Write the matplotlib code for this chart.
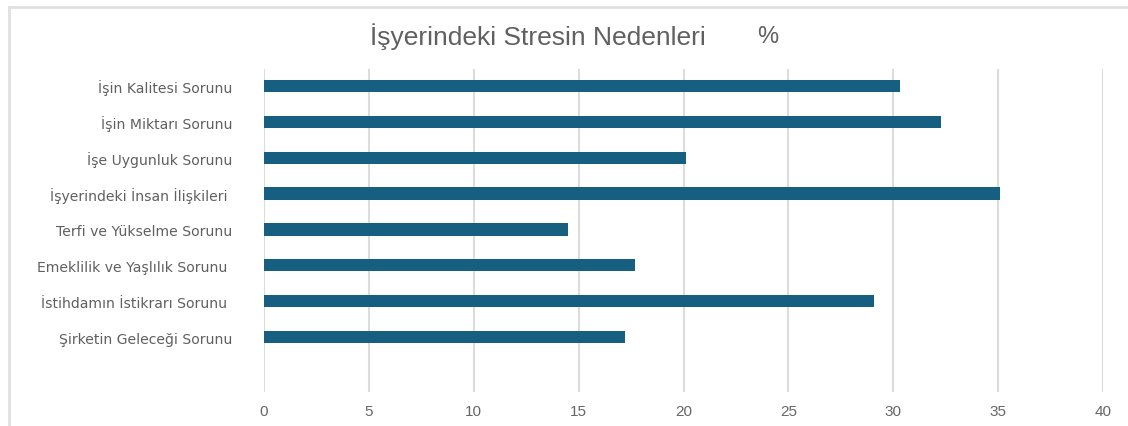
import matplotlib.pyplot as plt
from matplotlib.lines import Line2D

categories = ['İşin Kalitesi Sorunu', 'İşin Miktarı Sorunu', 'İşe Uygunluk Sorunu',
              'İşyerindeki İnsan İlişkileri ', 'Terfi ve Yükselme Sorunu',
              'Emeklilik ve Yaşlılık Sorunu ', 'İstihdamın İstikrarı Sorunu ',
              'Şirketin Geleceği Sorunu']
values = [30.3, 32.3, 20.1, 35.1, 14.5, 17.7, 29.1, 17.2]
x_ticks = [0, 5, 10, 15, 20, 25, 30, 35, 40]

plt.rcParams['font.family'] = ['Liberation Sans', 'DejaVu Sans']

fig = plt.figure(figsize=(11.28, 4.27), dpi=100)
W, H = 1128, 427
# axes box in pixels: left 264, right 1103, top 70, bottom 393
ax = fig.add_axes([264 / W, 1 - 393 / H, (1103 - 264) / W, (393 - 70) / H])

y_pos = list(range(len(categories)))
ax.barh(y_pos, values, height=0.34, color='#175f80', zorder=3)

ax.set_xlim(0, 40)
ax.set_ylim(len(categories) - 1 + 1.53, -0.47)
ax.set_xticks(x_ticks)
ax.set_xticklabels([str(t) for t in x_ticks], color='#666666', fontsize=11)
ax.set_yticks(y_pos)
ax.set_yticklabels(categories, color='#606060', fontsize=10.1, family='DejaVu Sans')
ax.tick_params(axis='both', length=0)
ax.tick_params(axis='y', pad=23)
ax.tick_params(axis='x', pad=9)
ax.grid(axis='x', color='#dcdcdc', linewidth=1.5, zorder=0)
ax.grid(axis='y', visible=False)
for s in ax.spines.values():
    s.set_visible(False)

fig.text(370 / W, 1 - 37 / H, 'İşyerindeki Stresin Nedenleri',
         ha='left', va='center', fontsize=19, color='#606060')
fig.text(757 / W, 1 - 37 / H, '%',
         ha='left', va='center', fontsize=17, color='#606060')

# light frame around the chart (left and top edges visible)
fig.add_artist(Line2D([9 / W, 9 / W], [0, 1 - 8 / H], transform=fig.transFigure,
                      color='#e0e0e0', linewidth=2))
fig.add_artist(Line2D([9 / W, 1], [1 - 8 / H, 1 - 8 / H], transform=fig.transFigure,
                      color='#e0e0e0', linewidth=2))

fig.savefig('out.png', dpi=100)
